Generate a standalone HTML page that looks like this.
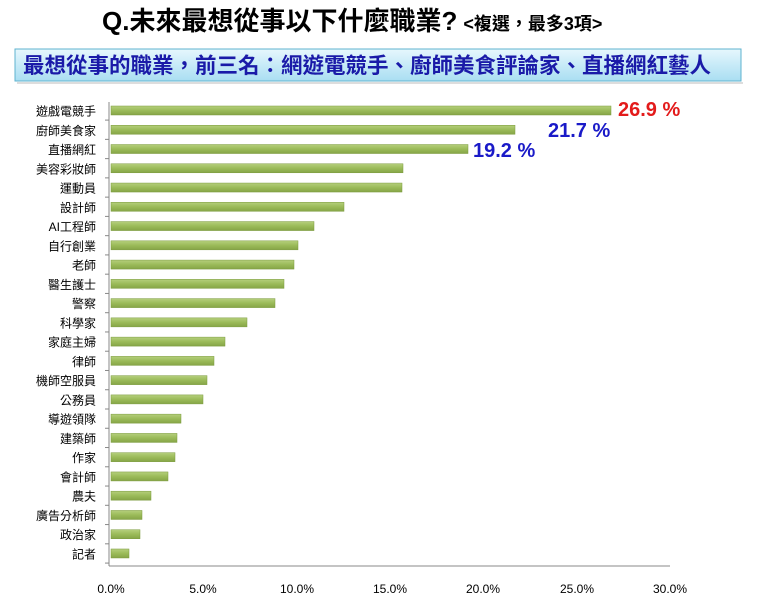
<!DOCTYPE html>
<html><head><meta charset="utf-8"><style>
body{margin:0;width:760px;height:603px;background:#fff;overflow:hidden;font-family:"Liberation Sans","Noto Sans CJK TC",sans-serif;}
</style></head><body>
<svg width="760" height="603" xmlns="http://www.w3.org/2000/svg" style="position:absolute;left:0;top:0">
<defs>
<linearGradient id="bx" x1="0" y1="0" x2="0" y2="1"><stop offset="0" stop-color="#e6f7fd"/><stop offset="1" stop-color="#a9def2"/></linearGradient>
<linearGradient id="bar" x1="0" y1="0" x2="0" y2="1"><stop offset="0" stop-color="#b5cf7c"/><stop offset="0.5" stop-color="#9bbb59"/><stop offset="1" stop-color="#86a547"/></linearGradient>
</defs>
<text x="102" y="30" font-size="26" font-weight="bold" font-family="Liberation Sans,Noto Sans CJK TC,sans-serif" fill="#000">Q.未來最想從事以下什麼職業?<tspan font-size="18" dx="6">&lt;複選，最多3項&gt;</tspan></text>
<rect x="15" y="49" width="726" height="32" fill="url(#bx)" stroke="#5fb3cf" stroke-width="1"/>
<rect x="17" y="82" width="726" height="2" fill="#ddd"/>
<text x="23" y="73" font-size="21.5" fill="#1a1aa8" font-weight="bold" font-family="Liberation Sans,Noto Sans CJK TC,sans-serif">最想從事的職業，前三名：網遊電競手、廚師美食評論家、直播網紅藝人</text>
<g stroke="#888" stroke-width="1">
<line x1="109" y1="102" x2="109" y2="566"/>
<line x1="109" y1="566" x2="670" y2="566"/>
</g>
<g id="bars"></g>
<g font-size="12" fill="#000" text-anchor="middle">
<text x="111" y="593">0.0%</text><text x="203" y="593">5.0%</text><text x="297" y="593">10.0%</text><text x="390" y="593">15.0%</text><text x="483" y="593">20.0%</text><text x="577" y="593">25.0%</text><text x="670" y="593">30.0%</text>
</g>
<g font-size="20" font-weight="bold">
<text x="618" y="116" fill="#e31b1b">26.9 %</text>
<text x="548" y="137" fill="#1a1ac8">21.7 %</text>
<text x="473" y="157" fill="#1a1ac8">19.2 %</text>
</g>
</svg>
<script>
var labels=["遊戲電競手","廚師美食家","直播網紅","美容彩妝師","運動員","設計師","AI工程師","自行創業","老師","醫生護士","警察","科學家","家庭主婦","律師","機師空服員","公務員","導遊領隊","建築師","作家","會計師","農夫","廣告分析師","政治家","記者"];
var ends=[611,515,468,403,402,344,314,298,294,284,275,247,225,214,207,203,181,177,175,168,151,142,140,129];
var g=document.getElementById("bars"),h="";
for(var i=0;i<24;i++){var c=110.5+i*19.26;
h+='<line x1="105" y1="'+(c+9.6)+'" x2="109" y2="'+(c+9.6)+'" stroke="#888"/>';
h+='<rect x="111" y="'+(c-4.5)+'" width="'+(ends[i]-111)+'" height="9" fill="url(#bar)" stroke="#7a9a3c" stroke-width="0.5"/>';
h+='<text x="96" y="'+(c+5)+'" font-size="12" text-anchor="end" fill="#000">'+labels[i]+'</text>';}
g.innerHTML=h;
</script>
</body></html>
